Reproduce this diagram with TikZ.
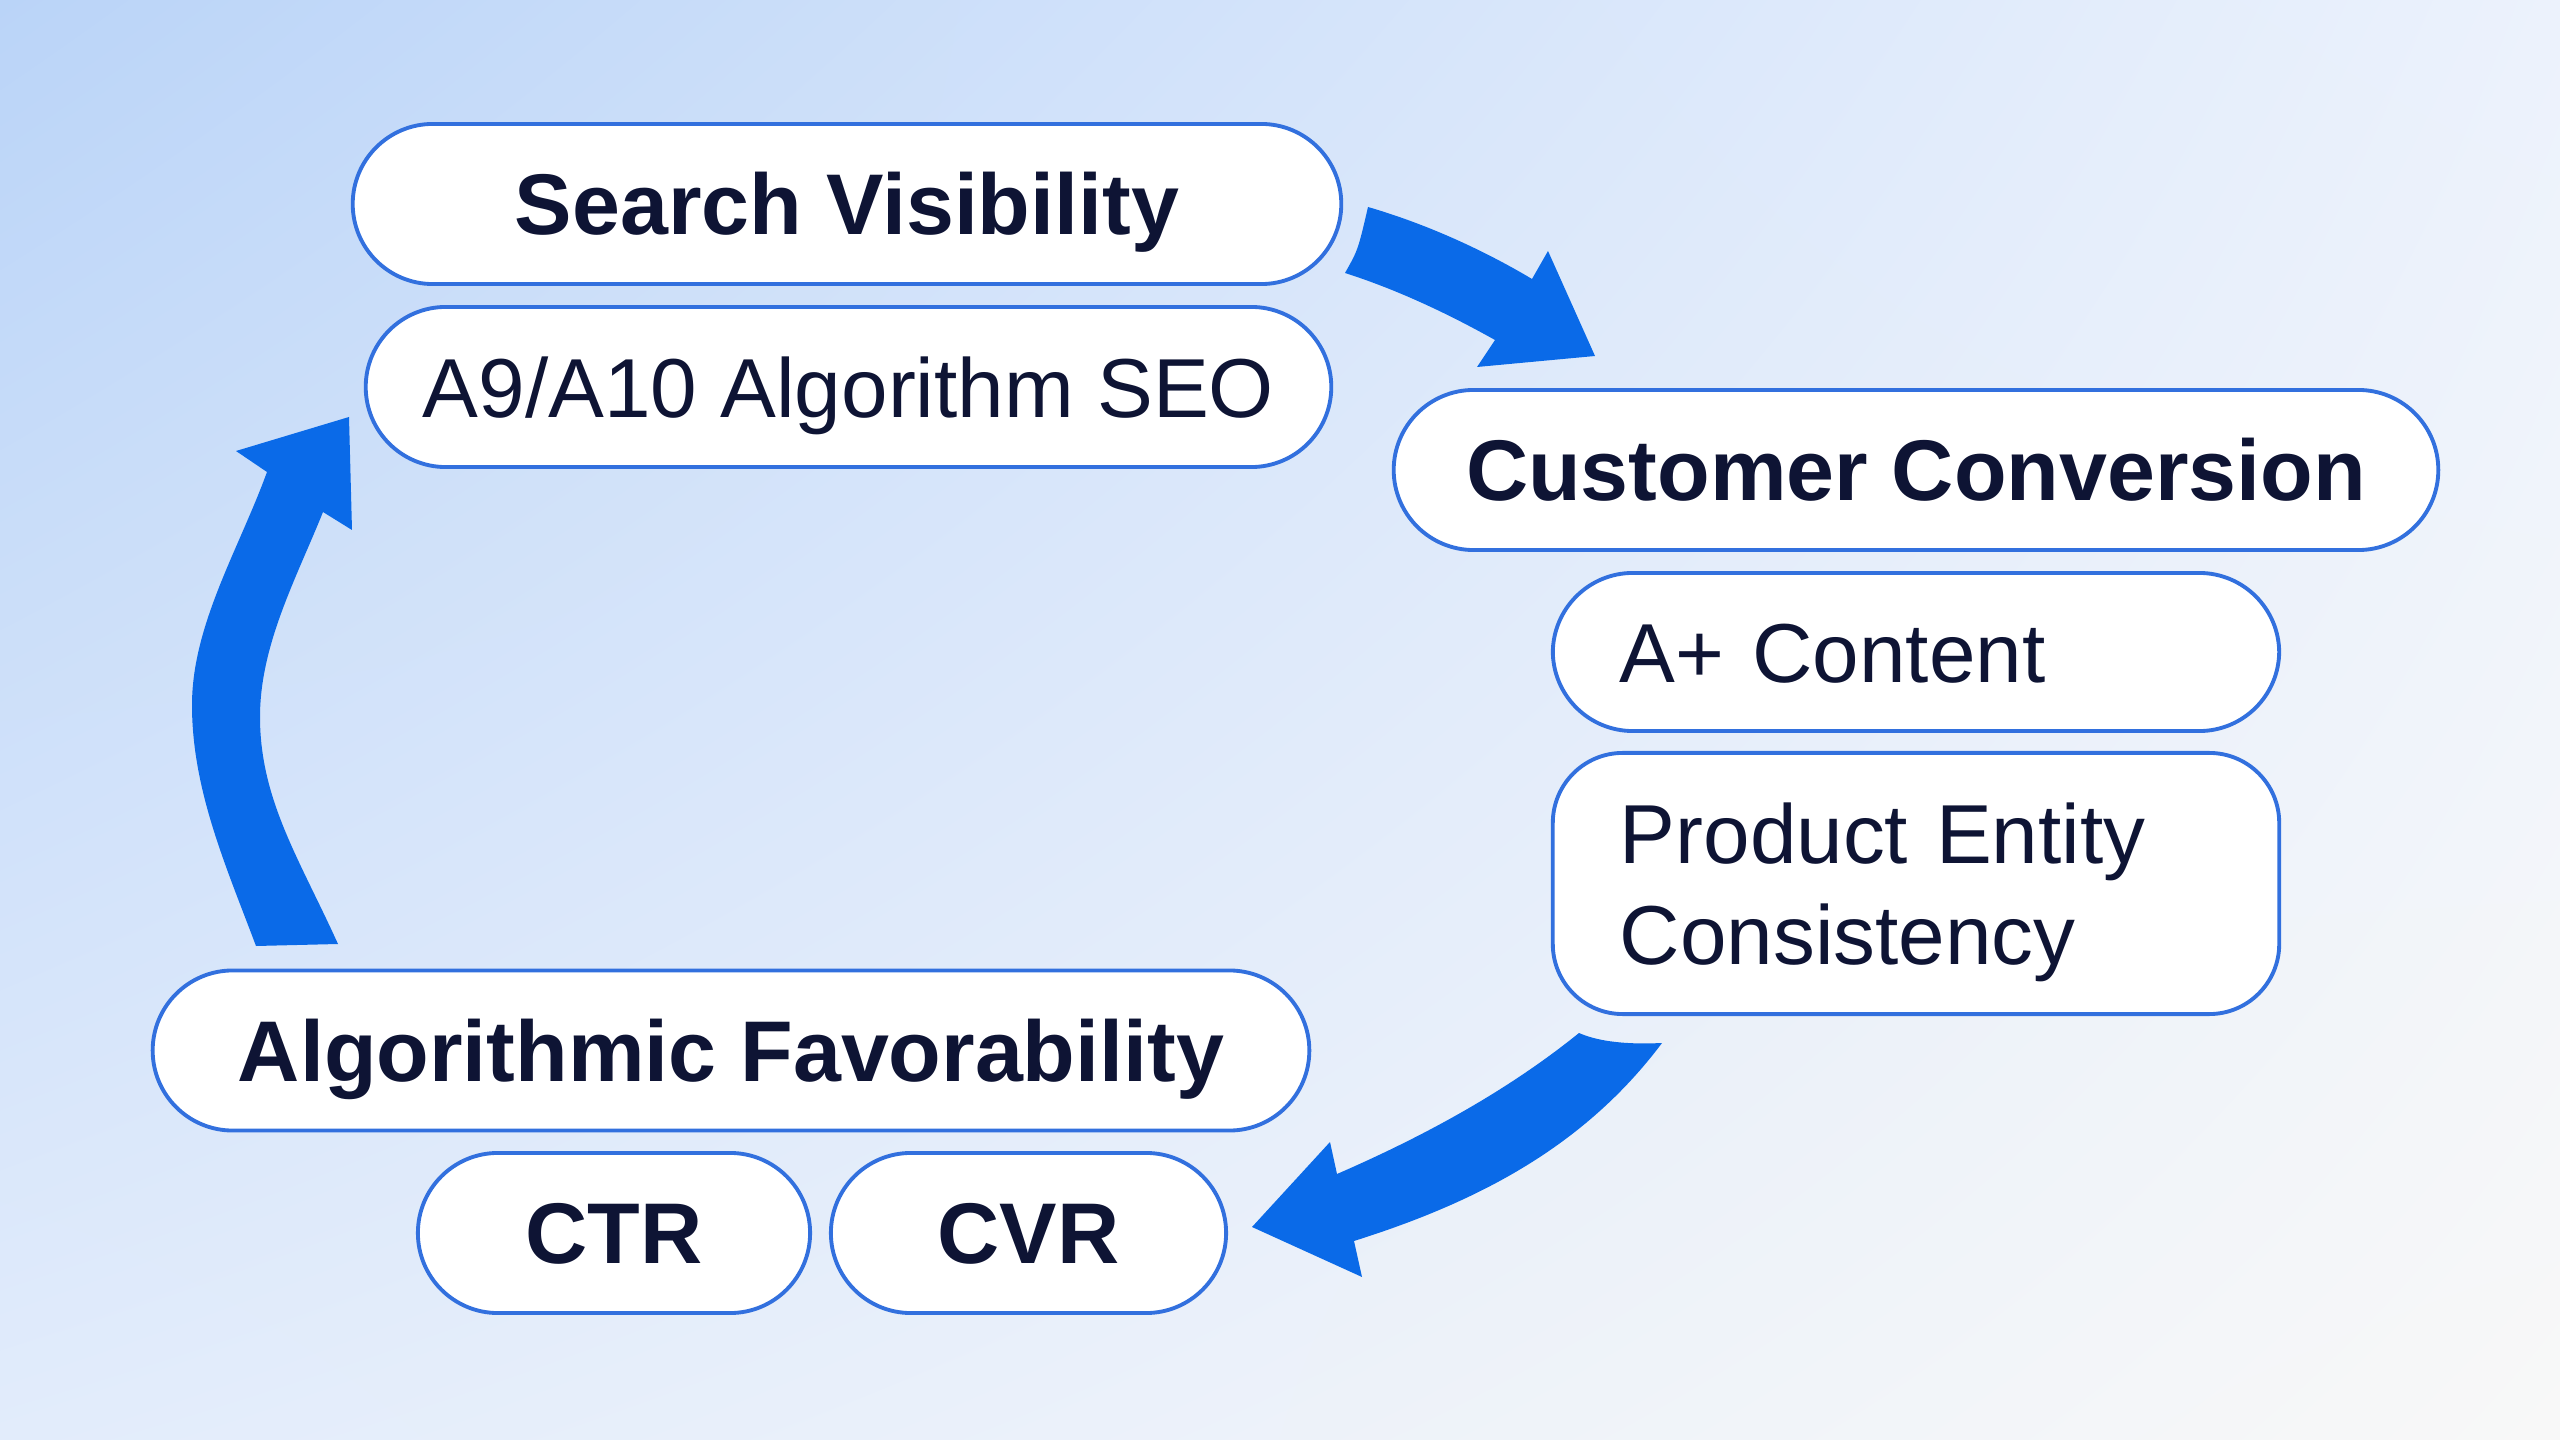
\documentclass[tikz,border=0pt]{standalone}
\usepackage{fontspec}
\setmainfont{Liberation Sans}
\usetikzlibrary{shadings}
\definecolor{bgUL}{RGB}{186,212,248}
\definecolor{bgUR}{RGB}{236,242,252}
\definecolor{bgLL}{RGB}{226,236,251}
\definecolor{bgLR}{RGB}{248,248,248}
\definecolor{pillborder}{RGB}{50,112,222}
\definecolor{ink}{RGB}{14,20,52}
\definecolor{arrowblue}{RGB}{10,106,232}
\begin{document}
\begin{tikzpicture}[x=0.01cm,y=-0.01cm,
  pill/.style={draw=pillborder, line width=1.1pt, fill=white, rounded corners=0.8cm,
    inner sep=0pt, text=ink, minimum height=1.6cm},
  headpill/.style={pill, font=\fontsize{24.5}{29}\selectfont\bfseries, text height=17.5pt, text depth=0pt},
  subpill/.style={pill, font=\fontsize{23.8}{28.7}\selectfont, text height=17.1pt, text depth=0pt},
  leftpill/.style={subpill, minimum width=7.26cm, text width=5.92cm, align=left, inner xsep=0.67cm},
  blockarrow/.style={fill=arrowblue, draw=none}]
\shade[upper left=bgUL, upper right=bgUR, lower left=bgLL, lower right=bgLR] (0,0) rectangle (2560,1440);
\useasboundingbox (0,0) rectangle (2560,1440);

% block arrows
\path[blockarrow] (1368,207) .. controls (1423,223) and (1480,248) .. (1532,279)
  -- (1548,251) -- (1595,356) -- (1477,367) -- (1495,340)
  .. controls (1445,312) and (1395,289) .. (1345,273)
  .. controls (1358,250) .. (1368,207) -- cycle;
\path[blockarrow] (1579,1033) .. controls (1506.5,1091.6) and (1422.6,1136.8) .. (1337,1174)
  -- (1330,1142) -- (1252,1227) -- (1362,1277) -- (1354,1241)
  .. controls (1477.5,1202) and (1584,1147) .. (1662,1043)
  .. controls (1620,1045) and (1595,1040) .. (1579,1033) -- cycle;
\path[blockarrow] (338,944) -- (256,946)
  .. controls (226,866) and (192,790) .. (192,705)
  .. controls (192,625) and (239,549) .. (267,472)
  -- (236,451) -- (349,417) -- (352,530) -- (323,512)
  .. controls (296,579) and (260,645) .. (260,717)
  .. controls (260,800) and (300,860) .. (338,944) -- cycle;

% nodes
\node[headpill, minimum width=9.88cm] (sv) at (847,204) {Search Visibility};
\node[subpill, minimum width=9.65cm] (seo) at (848.5,387) {A9/A10 Algorithm SEO};
\node[headpill, minimum width=10.44cm] (cc) at (1916,470) {Customer Conversion};
\node[leftpill, minimum height=1.58cm] (ac) at (1916,652) {A+ Content};
\node[leftpill, minimum height=2.61cm, rounded corners=0.7cm, text depth=28.7pt] (pe) at (1916,883.5) {Product Entity\\Consistency};
\node[headpill, minimum width=11.56cm] (af) at (731,1050.5) {Algorithmic Favorability};
\node[headpill, minimum width=3.92cm] (ctr) at (614,1233) {CTR};
\node[headpill, minimum width=3.95cm] (cvr) at (1028.5,1233) {CVR};
\end{tikzpicture}
\end{document}
